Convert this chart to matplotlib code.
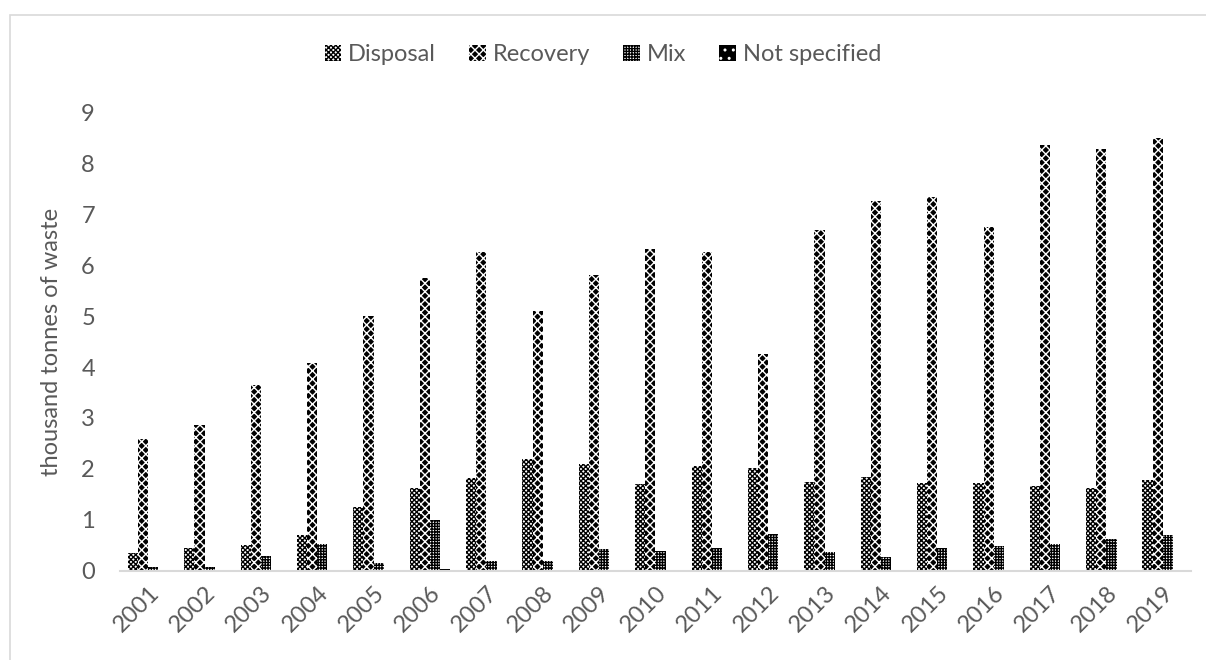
import numpy as np
import matplotlib
matplotlib.use('Agg')
import matplotlib.pyplot as plt
from matplotlib.patches import Rectangle

years = [str(y) for y in range(2001, 2020)]
disposal = [0.35, 0.45, 0.50, 0.70, 1.25, 1.63, 1.83, 2.20, 2.10, 1.70,
            2.05, 2.02, 1.75, 1.85, 1.72, 1.72, 1.67, 1.62, 1.78]
recovery = [2.58, 2.87, 3.65, 4.07, 5.00, 5.75, 6.25, 5.10, 5.80, 6.32,
            6.25, 4.25, 6.68, 7.25, 7.33, 6.75, 8.35, 8.27, 8.50]
mix = [0.08, 0.08, 0.30, 0.52, 0.15, 1.00, 0.20, 0.20, 0.42, 0.40,
       0.45, 0.72, 0.37, 0.28, 0.45, 0.48, 0.52, 0.62, 0.70]
not_specified = [0.02, 0.02, 0.0, 0.0, 0.0, 0.04, 0.0, 0.0, 0.0, 0.0,
                 0.0, 0.0, 0.0, 0.0, 0.0, 0.0, 0.0, 0.0, 0.0]

series = [('Disposal', disposal), ('Recovery', recovery),
          ('Mix', mix), ('Not specified', not_specified)]
# (facecolor, hatch colour, hatch)
styles = [('white', 'black', 'xxxxxxx'),
          ('black', 'white', 'xxxx'),
          ('white', 'black', '++++++'),
          ('black', 'white', '..')]

plt.rcParams['font.family'] = ['Lato', 'DejaVu Sans']
plt.rcParams['hatch.linewidth'] = 1.0
grey = '#595959'

fig = plt.figure(figsize=(12.06, 6.6), dpi=100)
ax = fig.add_axes([0.0995, 0.135, 0.888, 0.695])

x = np.arange(len(years))
w = 0.18
for i, ((name, vals), (fc, hc, hatch)) in enumerate(zip(series, styles)):
    ax.bar(x + (i - 1.5) * w, vals, w, facecolor=fc, edgecolor=hc,
           hatch=hatch, linewidth=0, label=name)

ax.set_xlim(-0.5, len(years) - 0.5)
ax.set_ylim(0, 9)
ax.set_yticks(range(10))
ax.set_xticks(x)
ax.set_xticklabels(years, rotation=45, ha='right', rotation_mode='anchor')
ax.tick_params(axis='both', length=0, labelsize=17, colors=grey)
ax.tick_params(axis='y', pad=18)
ax.tick_params(axis='x', pad=8)
for s in ['top', 'right', 'left']:
    ax.spines[s].set_visible(False)
ax.spines['bottom'].set_color('#d9d9d9')
ax.spines['bottom'].set_linewidth(1.5)
ax.set_ylabel('thousand tonnes of waste', fontsize=17, color=grey, labelpad=14)

leg = fig.legend(loc='center', bbox_to_anchor=(0.5, 0.917), ncol=4, frameon=False,
                 fontsize=17, handlelength=0.7, handleheight=0.7,
                 handletextpad=0.3, columnspacing=1.4)
for t in leg.get_texts():
    t.set_color(grey)

# chart area frame (cropped on the right and bottom in the reference)
fig.patches.append(Rectangle((10 / 1206, -0.05), 1.2, 0.05 + (660 - 15) / 660,
                             transform=fig.transFigure, fill=False,
                             edgecolor='#d9d9d9', linewidth=1.2))

fig.savefig('out.png', dpi=100)
